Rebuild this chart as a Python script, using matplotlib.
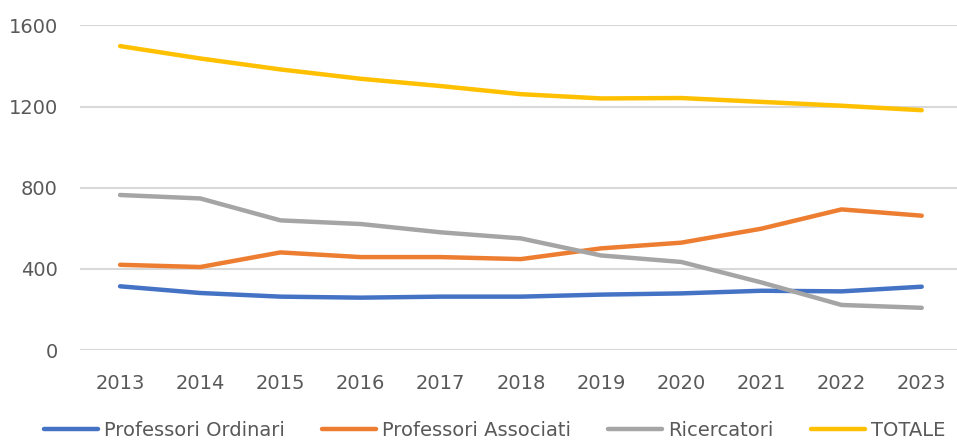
import matplotlib
matplotlib.use("Agg")
import matplotlib.pyplot as plt

# Personale docente per anno
anni = ["2013", "2014", "2015", "2016", "2017", "2018", "2019", "2020", "2021", "2022", "2023"]
ordinari = [314, 281, 263, 258, 263, 263, 273, 279, 292, 289, 312]
associati = [420, 409, 481, 458, 458, 448, 501, 529, 598, 693, 662]
ricercatori = [764, 747, 639, 621, 580, 550, 466, 434, 333, 222, 208]
totale = [1498, 1437, 1383, 1337, 1301, 1261, 1240, 1242, 1223, 1204, 1182]

serie = [
    ("Professori Ordinari", ordinari, "#4472C4"),
    ("Professori Associati", associati, "#ED7D31"),
    ("Ricercatori", ricercatori, "#A5A5A5"),
    ("TOTALE", totale, "#FFC000"),
]

plt.rcParams["font.family"] = ["DejaVu Sans"]
testo = "#595959"

fig = plt.figure(figsize=(9.57, 4.41), dpi=100)
ax = fig.add_axes([80 / 957, 91 / 441, 877 / 957, 324.6 / 441])

x = list(range(len(anni)))
for nome, valori, colore in serie:
    ax.plot(x, valori, color=colore, lw=3.2, label=nome,
            solid_capstyle="round", solid_joinstyle="round", clip_on=False)

ax.set_xlim(-0.5, 10.44)
ax.set_ylim(0, 1600)
ax.set_yticks([0, 400, 800, 1200, 1600])
ax.set_xticks(x)
ax.set_xticklabels(anni)
ax.tick_params(axis="both", length=0, labelsize=14, colors=testo)
ax.tick_params(axis="y", pad=16)
ax.tick_params(axis="x", pad=17)
ax.yaxis.grid(True, color="#D9D9D9", lw=1.5)
ax.set_axisbelow(True)
for s in ax.spines.values():
    s.set_visible(False)

fig.legend(loc="center", bbox_to_anchor=(494.5 / 957, 11 / 441), ncol=4, frameon=False,
           fontsize=14, handlelength=2.8, handletextpad=0.3, columnspacing=1.9,
           labelcolor=testo)

fig.savefig("out.png", dpi=100)
